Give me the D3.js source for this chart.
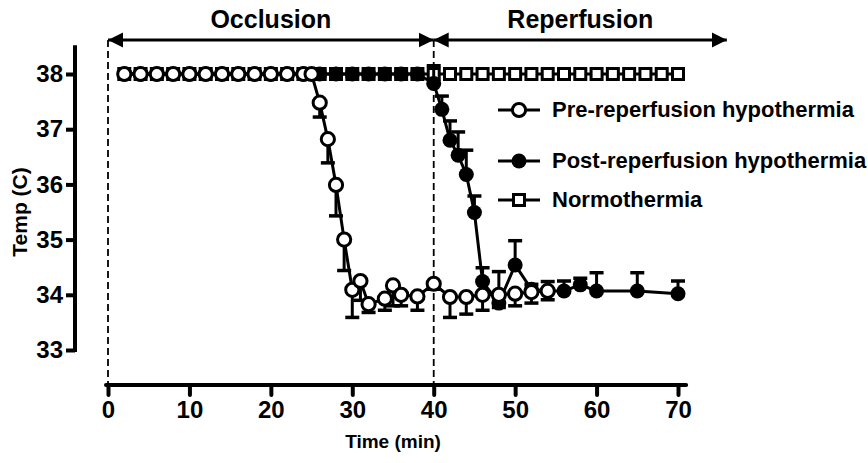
<!DOCTYPE html>
<html>
<head>
<meta charset="utf-8">
<script src="https://cdn.jsdelivr.net/npm/d3@7"></script>
<style>
  html, body { margin: 0; padding: 0; background: #fff; }
  svg { display: block; }
  text { font-family: "Liberation Sans", Arial, sans-serif; font-weight: bold; fill: #000; }
</style>
</head>
<body>
<svg id="chart" width="868" height="463"></svg>
<script>
// Time points (min) and mean temperature (C) with one-sided SEM for each group
const preTime = [2,4,6,8,10,12,14,16,18,20,22,24,25,26,27,28,29,30,31,32,34,35,36,38,40,42,44,46,48,50,52,54];
const preTemp = [38,38,38,38,38,38,38,38,38,38,38,38,38,37.48,36.82,35.99,35.0,34.09,34.25,33.83,33.93,34.17,34.0,33.97,34.2,33.96,33.96,34.0,34.0,34.02,34.05,34.07];
const preErr  = [0,0,0,0,0,0,0,0,0,0,0,0,0,0.26,0.43,0.56,0.56,0.5,0.35,0.15,0.21,0.37,0.2,0.25,0.1,0.37,0.31,0.28,0.23,0.22,0.2,0.16];

const postTime = [2,4,6,8,10,12,14,16,18,20,22,24,26,28,30,32,34,36,38,40,41,42,43,44,45,46,48,50,52,54,56,58,60,65,70];
const postTemp = [38,38,38,38,38,38,38,38,38,38,38,38,38,38,38,38,38,38,38,37.83,37.36,36.8,36.53,36.18,35.49,34.24,33.85,34.54,34.1,34.07,34.07,34.18,34.07,34.07,34.02];
const postErr  = [0,0,0,0,0,0,0,0,0,0,0,0,0,0,0,0,0,0,0,0.32,0.24,0.35,0.42,0.44,0.3,0.25,0.57,0.44,0.09,0.17,0.18,0.12,0.33,0.33,0.23];

const normTime = [2,4,6,8,10,12,14,16,18,20,22,24,26,28,30,32,34,36,38,40,42,44,46,48,50,52,54,56,58,60,62,64,66,68,70];
const normTemp = [38,38,38,38,38,38,38,38,38,38,38,38,38,38,38,38,38,38,38,38,38,38,38,38,38,38,38,38,38,38,38,38,38,38,38];

const xTicks = [0,10,20,30,40,50,60,70];
const yTicks = [33,34,35,36,37,38];
const legendLabels = ["Pre-reperfusion hypothermia", "Post-reperfusion hypothermia", "Normothermia"];
const phaseLabels = ["Occlusion", "Reperfusion"];
const phaseBounds = [[0, 40], [40, 76]];

const svg = d3.select("#chart");
const x = d3.scaleLinear().domain([0, 70]).range([108, 678]);
const y = d3.scaleLinear().domain([33, 38]).range([350, 74]);

// arrow head markers
const defs = svg.append("defs");
["start", "end"].forEach(k => {
  defs.append("marker")
    .attr("id", "arrow-" + k)
    .attr("viewBox", "0 0 10 10")
    .attr("refX", k === "end" ? 10 : 0).attr("refY", 5)
    .attr("markerUnits", "userSpaceOnUse")
    .attr("markerWidth", 15).attr("markerHeight", 16)
    .attr("orient", "auto")
    .append("path")
    .attr("d", k === "end" ? "M0,0 L10,5 L0,10 Z" : "M10,0 L0,5 L10,10 Z")
    .attr("fill", "#000");
});

// phase brackets
const arrowY = 40;
phaseBounds.forEach((b, i) => {
  svg.append("line")
    .attr("x1", x(b[0])).attr("x2", x(b[1]))
    .attr("y1", arrowY).attr("y2", arrowY)
    .attr("stroke", "#000").attr("stroke-width", 3)
    .attr("marker-start", "url(#arrow-start)")
    .attr("marker-end", "url(#arrow-end)");
  svg.append("text")
    .attr("x", (x(b[0]) + x(b[1])) / 2).attr("y", 28)
    .attr("text-anchor", "middle")
    .attr("font-size", 25)
    .text(phaseLabels[i]);
});

// dashed phase boundaries
[0, 40].forEach(t => {
  svg.append("line")
    .attr("x1", x(t)).attr("x2", x(t))
    .attr("y1", arrowY).attr("y2", 385)
    .attr("stroke", "#000").attr("stroke-width", 1.8)
    .attr("stroke-dasharray", "7,4");
});

// y axis
const yAxis = d3.axisLeft(y).tickValues(yTicks).tickFormat(d3.format("d")).tickSize(9).tickPadding(3);
const gy = svg.append("g").attr("transform", "translate(75,0)").call(yAxis);
gy.select(".domain").remove();
gy.append("line").attr("x1", 0).attr("x2", 0).attr("y1", y(38.52)).attr("y2", y(33) + 2)
  .attr("stroke", "#000").attr("stroke-width", 4);
gy.selectAll(".tick line").attr("stroke", "#000").attr("stroke-width", 4);
gy.selectAll(".tick text").attr("font-size", 24).attr("font-family", "Liberation Sans, Arial, sans-serif").attr("font-weight", "bold").attr("fill", "#000");

// x axis
const xAxis = d3.axisBottom(x).tickValues(xTicks).tickFormat(d3.format("d")).tickSize(10).tickPadding(6);
const gx = svg.append("g").attr("transform", "translate(0,385)").call(xAxis);
gx.select(".domain").remove();
gx.append("line").attr("x1", x(0) - 2).attr("x2", x(71)).attr("y1", 0).attr("y2", 0)
  .attr("stroke", "#000").attr("stroke-width", 4).attr("stroke-linecap", "round");
gx.selectAll(".tick line").attr("stroke", "#000").attr("stroke-width", 4).attr("stroke-linecap", "round");
gx.selectAll(".tick text").attr("font-size", 24).attr("font-family", "Liberation Sans, Arial, sans-serif").attr("font-weight", "bold").attr("fill", "#000");

// axis titles
svg.append("text").attr("x", 393).attr("y", 448).attr("text-anchor", "middle")
  .attr("font-size", 19).text("Time (min)");
svg.append("text").attr("transform", "translate(27,212) rotate(-90)").attr("text-anchor", "middle")
  .attr("font-size", 21).text("Temp (C)");

const line = d3.line().x(d => x(d[0])).y(d => y(d[1]));

function drawSeries(times, temps, errs, kind) {
  const pts = times.map((t, i) => [t, temps[i], errs ? errs[i] : 0]);
  const g = svg.append("g");
  g.append("path").datum(pts).attr("d", line)
    .attr("fill", "none").attr("stroke", "#000").attr("stroke-width", 3);
  if (errs) {
    const dir = kind === "open" ? -1 : 1;
    pts.filter(d => d[2] > 0).forEach(d => {
      const ye = y(d[1] + dir * d[2]);
      g.append("line").attr("x1", x(d[0])).attr("x2", x(d[0]))
        .attr("y1", y(d[1])).attr("y2", ye)
        .attr("stroke", "#000").attr("stroke-width", 3);
      g.append("line").attr("x1", x(d[0]) - 7).attr("x2", x(d[0]) + 7)
        .attr("y1", ye).attr("y2", ye)
        .attr("stroke", "#000").attr("stroke-width", 3.5);
    });
  }
  pts.forEach(d => drawMarker(g, x(d[0]), y(d[1]), kind));
}

function drawMarker(g, cx, cy, kind) {
  if (kind === "square") {
    g.append("rect").attr("x", cx - 5.5).attr("y", cy - 5.5).attr("width", 11).attr("height", 11)
      .attr("fill", "#fff").attr("stroke", "#000").attr("stroke-width", 3);
  } else if (kind === "filled") {
    g.append("circle").attr("cx", cx).attr("cy", cy).attr("r", 7.5).attr("fill", "#000");
  } else {
    g.append("circle").attr("cx", cx).attr("cy", cy).attr("r", 6.6)
      .attr("fill", "#fff").attr("stroke", "#000").attr("stroke-width", 3);
  }
}

drawSeries(normTime, normTemp, null, "square");
drawSeries(postTime, postTemp, postErr, "filled");
drawSeries(preTime, preTemp, preErr, "open");

// legend
const legendRows = [110, 161, 200];
const legendKinds = ["open", "filled", "square"];
legendLabels.forEach((lab, i) => {
  const ly = legendRows[i];
  svg.append("line").attr("x1", 498).attr("x2", 540).attr("y1", ly).attr("y2", ly)
    .attr("stroke", "#000").attr("stroke-width", 3);
  drawMarker(svg, 519, ly, legendKinds[i]);
  svg.append("text").attr("x", 552).attr("y", ly + 7).attr("font-size", 22).text(lab);
});
</script>
</body>
</html>
